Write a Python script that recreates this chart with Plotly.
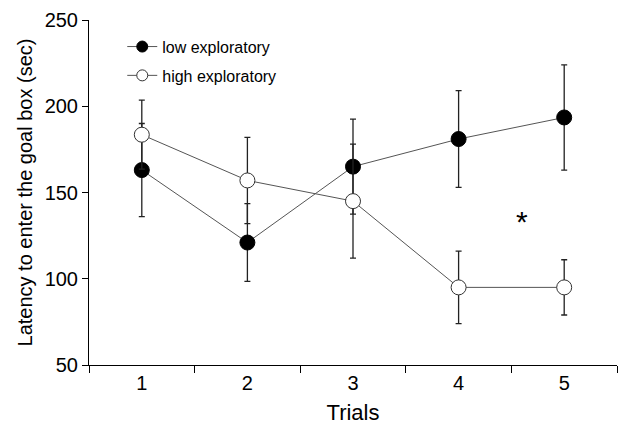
import plotly.graph_objects as go

trials = [1, 2, 3, 4, 5]
low_mean = [163, 121, 165, 181, 193.5]
low_err = [27, 22.5, 27.5, 28, 30.5]
high_mean = [183.5, 157, 145, 95, 95]
high_err = [20, 25, 33, 21, 16]
series_names = ["low exploratory", "high exploratory"]

FONT = "Liberation Sans, Arial, sans-serif"

fig = go.Figure()
fig.add_trace(go.Scatter(
    x=trials, y=low_mean, mode="lines+markers", name=series_names[0], showlegend=False,
    line=dict(color="#555555", width=1),
    marker=dict(symbol="circle", size=15, color="black", line=dict(color="black", width=1)),
    error_y=dict(type="data", array=low_err, visible=True, color="#222222", thickness=1.3, width=3),
))
fig.add_trace(go.Scatter(
    x=trials, y=high_mean, mode="lines+markers", name=series_names[1], showlegend=False,
    line=dict(color="#555555", width=1),
    marker=dict(symbol="circle", size=15, color="white", line=dict(color="#333333", width=1)),
    error_y=dict(type="data", array=high_err, visible=True, color="#222222", thickness=1.3, width=3),
))
# legend entries with smaller markers
fig.add_trace(go.Scatter(
    x=[None], y=[None], mode="lines+markers", name=series_names[0], legendgroup="a",
    line=dict(color="#555555", width=1),
    marker=dict(symbol="circle", size=11, color="black", line=dict(color="black", width=1)),
))
fig.add_trace(go.Scatter(
    x=[None], y=[None], mode="lines+markers", name=series_names[1], legendgroup="b",
    line=dict(color="#555555", width=1),
    marker=dict(symbol="circle", size=11, color="white", line=dict(color="#333333", width=1)),
))

fig.add_annotation(x=4.6, y=133, text="*", showarrow=False,
                   font=dict(family=FONT, size=30, color="black"), xref="x", yref="y")

fig.update_layout(
    width=622, height=425,
    margin=dict(l=89, r=5, t=20, b=57),
    plot_bgcolor="white", paper_bgcolor="white",
    font=dict(family=FONT, color="black"),
    showlegend=True,
    legend=dict(x=0.063, y=0.972, xanchor="left", yanchor="top",
                font=dict(family=FONT, size=16), bgcolor="rgba(0,0,0,0)",
                tracegroupgap=5, itemwidth=30),
)
fig.update_xaxes(
    range=[0.5, 5.5], tickvals=trials, ticktext=[str(t) for t in trials],
    ticks="", showline=True, linecolor="black", linewidth=1, showgrid=False, zeroline=False,
    tickfont=dict(size=20), title=dict(text="Trials", font=dict(size=22), standoff=11),
    minor=dict(tick0=0.5, dtick=1, ticks="outside", ticklen=7, tickcolor="black", tickwidth=1, showgrid=False),
)
fig.update_yaxes(
    range=[50, 250], tickvals=[50, 100, 150, 200, 250],
    ticks="outside", ticklen=6, tickcolor="black", showline=True, linecolor="black", linewidth=1,
    showgrid=False, zeroline=False, tickfont=dict(size=20),
    title=dict(text="Latency to enter the goal box (sec)", font=dict(size=20), standoff=6),
)

fig.write_html("out.html")
